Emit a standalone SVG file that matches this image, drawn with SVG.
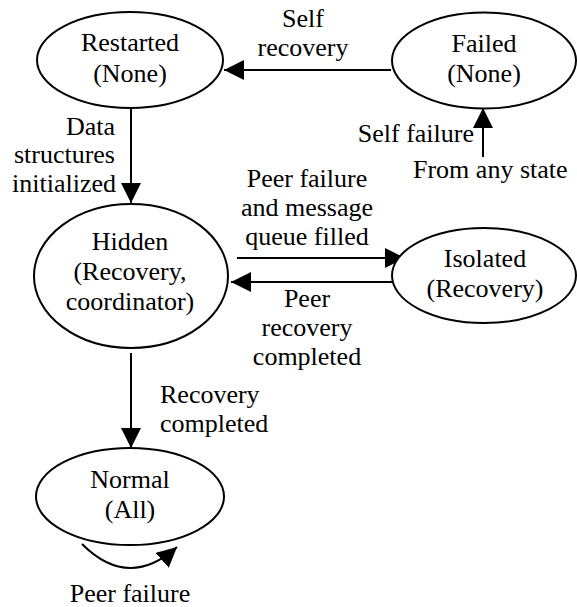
<svg xmlns="http://www.w3.org/2000/svg" width="577" height="607" viewBox="0 0 577 607">
<style>
  .node ellipse { fill: #ffffff; stroke: #000000; stroke-width: 2; }
  .c { text-anchor: middle; }
  .e { text-anchor: end; }
  .edge { fill: none; stroke: #000000; stroke-width: 2; marker-end: url(#arrow); }
</style>
<defs>
  <marker id="arrow" markerUnits="userSpaceOnUse" markerWidth="20" markerHeight="20" refX="20" refY="10" orient="auto" viewBox="0 0 20 20">
    <path d="M0,0 L20,10 L0,20 Z" fill="#000000"/>
  </marker>
</defs>
<rect x="0" y="0" width="577" height="607" fill="#ffffff"/>

<g id="connectors">
  <line class="edge" x1="391" y1="70" x2="224" y2="70"/>
  <line class="edge" x1="131" y1="108" x2="131" y2="203"/>
  <line class="edge" x1="483" y1="157" x2="483" y2="108"/>
  <line class="edge" x1="237" y1="258" x2="405" y2="258"/>
  <line class="edge" x1="398" y1="282" x2="231" y2="282"/>
  <line class="edge" x1="131" y1="353" x2="131" y2="448"/>
  <path class="edge" d="M82,544 C108,570 140,580 177,547"/>
</g>

<g font-family="Liberation Serif, Times New Roman, serif" font-size="26" fill="#000000">
<g id="edge-labels">
  <text class="c" x="303" y="27">Self</text>
  <text class="c" x="303" y="56">recovery</text>
  <text class="e" x="115" y="135">Data</text>
  <text class="e" x="115" y="163">structures</text>
  <text class="e" x="116" y="192">initialized</text>
  <text class="e" x="474" y="142">Self failure</text>
  <text x="413" y="178">From any state</text>
  <text class="c" x="307" y="187">Peer failure</text>
  <text class="c" x="307" y="216">and message</text>
  <text class="c" x="307" y="245">queue filled</text>
  <text class="c" x="307" y="307">Peer</text>
  <text class="c" x="307" y="336">recovery</text>
  <text class="c" x="307" y="365">completed</text>
  <text x="160" y="403">Recovery</text>
  <text x="160" y="432">completed</text>
  <text class="c" x="130" y="602">Peer failure</text>
</g>

<g id="node-restarted" class="node">
  <ellipse cx="130" cy="60" rx="93" ry="48"/>
  <text class="c" x="130" y="51">Restarted</text>
  <text class="c" x="130" y="82">(None)</text>
</g>
<g id="node-failed" class="node">
  <ellipse cx="484" cy="60.5" rx="92" ry="48"/>
  <text class="c" x="484" y="52">Failed</text>
  <text class="c" x="484" y="82">(None)</text>
</g>
<g id="node-hidden" class="node">
  <ellipse cx="131" cy="276" rx="97" ry="72"/>
  <text class="c" x="130" y="250">Hidden</text>
  <text class="c" x="130" y="280">(Recovery,</text>
  <text class="c" x="130" y="310">coordinator)</text>
</g>
<g id="node-isolated" class="node">
  <ellipse cx="484" cy="275.5" rx="92" ry="47.5"/>
  <text class="c" x="485" y="267">Isolated</text>
  <text class="c" x="485" y="297">(Recovery)</text>
</g>
<g id="node-normal" class="node">
  <ellipse cx="130" cy="496.5" rx="94" ry="48.5"/>
  <text class="c" x="130" y="488">Normal</text>
  <text class="c" x="130" y="518">(All)</text>
</g>
</g>
</svg>
